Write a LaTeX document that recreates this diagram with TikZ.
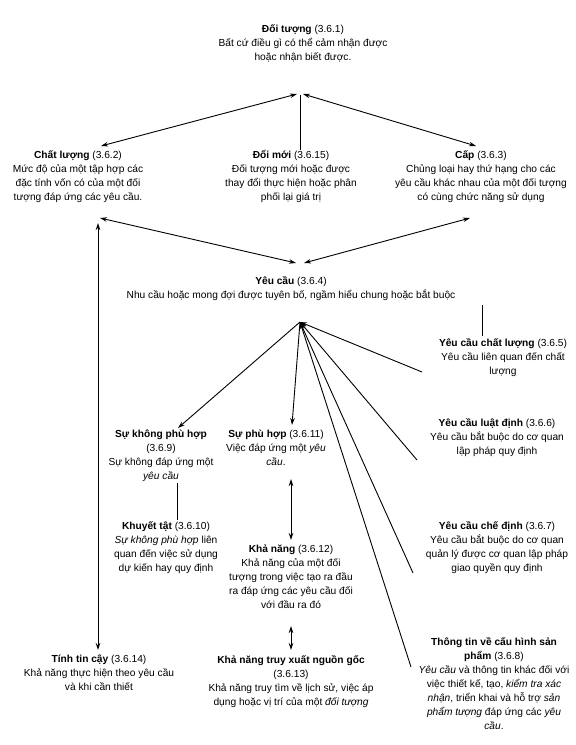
\documentclass[tikz,border=0pt]{standalone}
\usepackage{fontspec}
\setmainfont{Liberation Sans}
\usetikzlibrary{arrows.meta}

\begin{document}
\begin{tikzpicture}[x=1pt,y=-1pt,>={Stealth[length=7pt,width=4.5pt]},
  concept/.style={align=center,anchor=north,inner sep=0pt,font=\fontsize{10.2}{14}\selectfont},
  link/.style={line width=0.9pt},
  thinlink/.style={line width=0.5pt}]
\useasboundingbox (0,0) rectangle (576,745);
% concepts
\node[concept] (doituong) at (303,24) {\textbf{Đối tượng} (3.6.1)\\Bất cứ điều gì có thể cảm nhận được\\hoặc nhận biết được.};
\node[concept] (chatluong) at (78,150) {\textbf{Chất lượng} (3.6.2)\\Mức độ của một tập hợp các\\đặc tính vốn có của một đối\\tượng đáp ứng các yêu cầu.};
\node[concept] (doimoi) at (291,150) {\textbf{Đổi mới} (3.6.15)\\Đối tượng mới hoặc được\\thay đổi thực hiện hoặc phân\\phối lại giá trị};
\node[concept] (cap) at (481,150) {\textbf{Cấp} (3.6.3)\\Chủng loại hay thứ hạng cho các\\yêu cầu khác nhau của một đối tượng\\có cùng chức năng sử dụng};
\node[concept] (yeucau) at (291,276) {\textbf{Yêu cầu} (3.6.4)\\Nhu cầu hoặc mong đợi được tuyên bố, ngầm hiểu chung hoặc bắt buộc};
\node[concept] (ycchatluong) at (503,338) {\textbf{Yêu cầu chất lượng} (3.6.5)\\Yêu cầu liên quan đến chất\\lượng};
\node[concept] (ycluatdinh) at (497,418) {\textbf{Yêu cầu luật định} (3.6.6)\\Yêu cầu bắt buộc do cơ quan\\lập pháp quy định};
\node[concept] (ycchedinh) at (497,521) {\textbf{Yêu cầu chế định} (3.6.7)\\Yêu cầu bắt buộc do cơ quan\\quản lý được cơ quan lập pháp\\giao quyền quy định};
\node[concept] (thongtin) at (494,637) {\textbf{Thông tin về cấu hình sản}\\\textbf{phẩm} (3.6.8)\\\textit{Yêu cầu} và thông tin khác đối với\\việc thiết kế, tạo, \textit{kiểm tra xác}\\\textit{nhận}, triển khai và hỗ trợ \textit{sản}\\\textit{phẩm tượng} đáp ứng các \textit{yêu}\\\textit{cầu}.};
\node[concept] (skph) at (161,430) {\textbf{Sự không phù hợp}\\(3.6.9)\\Sự không đáp ứng một\\\textit{yêu cầu}};
\node[concept] (khuyettat) at (166,521) {\textbf{Khuyết tật} (3.6.10)\\\textit{Sự không phù hợp} liên\\quan đến việc sử dụng\\dự kiến hay quy định};
\node[concept] (suphuhop) at (276,430) {\textbf{Sự phù hợp} (3.6.11)\\Việc đáp ứng một \textit{yêu}\\\textit{cầu}.};
\node[concept] (khanang) at (291,545) {\textbf{Khả năng} (3.6.12)\\Khả năng của một đối\\tượng trong việc tạo ra đầu\\ra đáp ứng các yêu cầu đối\\với đầu ra đó};
\node[concept] (truyxuat) at (291,655) {\textbf{Khả năng truy xuất nguồn gốc}\\(3.6.13)\\Khả năng truy tìm về lịch sử, việc áp\\dụng hoặc vị trí của một \textit{đối tượng}};
\node[concept] (tincay) at (99,655) {\textbf{Tính tin cậy} (3.6.14)\\Khả năng thực hiện theo yêu cầu\\và khi cần thiết};
% connector ends
\coordinate (dt-l) at (297,94);
\coordinate (dt-r) at (303,94);
\coordinate (dt-m) at (300,95);
\coordinate (cl-in) at (101,146);
\coordinate (cap-in) at (476,146);
\coordinate (dm-in) at (300,150);
\coordinate (cl-out) at (100,218);
\coordinate (cap-out) at (470,218);
\coordinate (cl-down) at (98,223);
\coordinate (tc-in) at (98,650);
\coordinate (yc-l) at (296,263);
\coordinate (yc-r) at (304,263);
\coordinate (yc-hub) at (300,322);
\coordinate (skph-in) at (178,428);
\coordinate (sph-in) at (292,425);
\coordinate (yccl-out) at (422,372);
\coordinate (yccl-up) at (482,305);
\coordinate (yccl-in) at (482,336);
\coordinate (ycld-out) at (417,460);
\coordinate (yccd-out) at (413,573);
\coordinate (tt-out) at (411,667);
\coordinate (skph-out) at (177,483);
\coordinate (kt-in) at (177,520);
\coordinate (sph-out) at (291,479);
\coordinate (kn-in) at (291,540);
\coordinate (kn-out) at (291,626);
\coordinate (tx-in) at (291,650);
% links
\draw[link,<->] (dt-l)--(cl-in);
\draw[link,<->] (dt-r)--(cap-in);
\draw[thinlink] (dt-m)--(dm-in);
\draw[link,<->] (cl-out)--(yc-l);
\draw[link,<->] (cap-out)--(yc-r);
\draw[link,<->] (cl-down)--(tc-in);
\draw[link,->] (yc-hub)--(skph-in);
\draw[link,->] (yc-hub)--(sph-in);
\draw[link,->] (yccl-out)--(yc-hub);
\draw[link,->] (ycld-out)--(yc-hub);
\draw[link,->] (yccd-out)--(yc-hub);
\draw[link,->] (tt-out)--(yc-hub);
\draw[link] (yccl-up)--(yccl-in);
\draw[link] (skph-out)--(kt-in);
\draw[link,<->] (sph-out)--(kn-in);
\draw[link,<->] (kn-out)--(tx-in);
\end{tikzpicture}
\end{document}
